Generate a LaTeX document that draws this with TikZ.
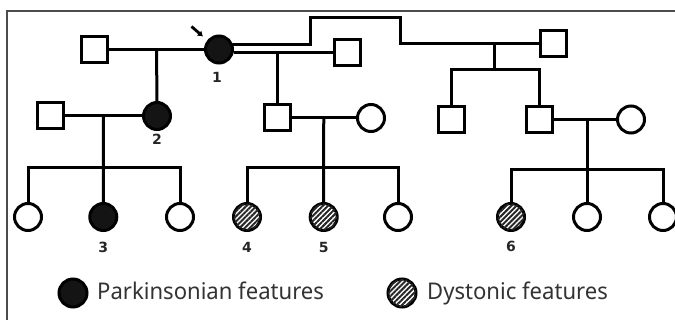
\documentclass[tikz,border=0pt]{standalone}
\usepackage{fontspec}
\setmainfont{Noto Sans}
\newfontfamily\idfont{DejaVu Sans}
\newfontfamily\legendfont{Noto Sans}[FakeStretch=0.96]
\usetikzlibrary{patterns.meta,arrows.meta,calc}

\begin{document}
\begin{tikzpicture}[x=1pt,y=-1pt,
  male/.style={rectangle,draw,line width=3pt,minimum size=26pt,inner sep=0pt,fill=white},
  female/.style={circle,draw,line width=3pt,minimum size=27pt,inner sep=0pt,fill=white},
  park/.style={fill=black!92},
  dyst/.style={postaction={pattern={Lines[angle=45,distance=3.6pt,line width=2pt]},pattern color=black!85}},
  conn/.style={line width=3pt},
  idlabel/.style={font=\idfont\bfseries\fontsize{14}{14}\selectfont,inner sep=0pt,text=black!85},
  legendtext/.style={font=\legendfont\fontsize{23}{26}\selectfont,anchor=base west,inner sep=0pt,text=black!80}]

\useasboundingbox (0,0) rectangle (675,320);
% frame
\draw[black!70,line width=1.2pt] (7,320) -- (7,11) -- (675,11);

% generation I
\node[male] (A) at (94.5,49.5) {};
\node[female,park] (p1) at (219,49.5) {};
\node[male] (C) at (347,52.4) {};
\node[male] (F) at (553,43.5) {};

% generation II
\node[male] (B) at (50,116) {};
\node[female,park] (p2) at (157,116) {};
\node[male] (D) at (277,118) {};
\node[female] (E) at (371,118) {};
\node[male] (G) at (451,119.5) {};
\node[male] (H) at (539,119.5) {};
\node[female] (I) at (631,119.5) {};

% generation III
\node[female] (c1) at (28,217) {};
\node[female,park] (c3) at (103.3,217) {};
\node[female] (c2) at (180,217) {};
\node[female,dyst] (c4) at (247,217) {};
\node[female,dyst] (c5) at (323.7,217) {};
\node[female] (c6) at (398,217) {};
\node[female,dyst] (c7) at (511,217) {};
\node[female] (c8) at (587,217) {};
\node[female] (c9) at (663,217) {};

% individual numbers
\node[idlabel] (n1) at (217,77) {1};
\node[idlabel] (n2) at (157,139) {2};
\node[idlabel] (n3) at (103.3,247) {3};
\node[idlabel] (n4) at (247,247) {4};
\node[idlabel] (n5) at (323.7,247) {5};
\node[idlabel] (n6) at (511,246) {6};

% proband arrow
\coordinate (arrs) at (191.5,26.5);
\coordinate (arre) at (203,36.5);
\draw[line width=2.8pt,-{Latex[length=5pt,width=7pt]}] (arrs) -- (arre);

% family of 1
\draw[conn] (A.east) -- (p1.west);
\coordinate (m1) at ($(A.east)!.5!(p1.west)$);
\draw[conn] (m1) -- (p2.north);

% 1 with C, and the upper line over to F
\draw[conn] (p1.-10) -- (p1.-10 -| C.west);
\coordinate (m2) at (p1.-10 -| D.north);
\draw[conn] (m2) -- (D.north);
\draw[conn] (p1.21) -| (310,18) -| (400,43.5) -- (F.west);
\coordinate (m4) at (494,43.5);
\coordinate (s4) at (494,70);
\draw[conn] (m4) -- (s4);
\draw[conn] (G.north) |- (s4) -| (H.north);

% family of 2
\draw[conn] (B.east) -- (p2.west);
\coordinate (m3) at ($(B.east)!.5!(p2.west)$);
\coordinate (s1) at (m3 |- 0,168);
\draw[conn] (m3) -- (c3.north);
\draw[conn] (c1.north) |- (s1) -| (c2.north);

% family of D and E
\draw[conn] (D.east) -- (E.west);
\coordinate (m5) at ($(D.east)!.5!(E.west)$);
\coordinate (s2) at (m5 |- 0,168);
\draw[conn] (m5) -- (c5.north);
\draw[conn] (c4.north) |- (s2) -| (c6.north);

% family of H and I
\draw[conn] (H.east) -- (I.west);
\coordinate (m6) at (587,0 |- H.east);
\coordinate (s3) at (587,170);
\draw[conn] (m6) -- (c8.north);
\draw[conn] (c7.north) |- (s3) -| (c9.north);

% legend
\node[female,park,minimum size=28pt] (lp) at (73,293) {};
\node[legendtext] (tp) at (97,300) {Parkinsonian features};
\node[female,dyst,minimum size=28pt] (ld) at (402,293) {};
\node[legendtext] (td) at (427,300) {Dystonic features};
\end{tikzpicture}
\end{document}
